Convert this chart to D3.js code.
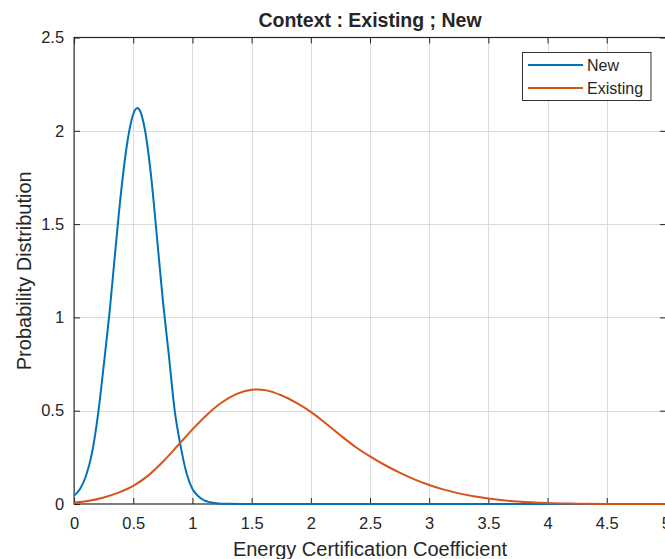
<!DOCTYPE html>
<html>
<head>
<meta charset="utf-8">
<script src="https://cdn.jsdelivr.net/npm/d3@7"></script>
<style>
  html, body { margin: 0; padding: 0; background: #ffffff; }
  svg { display: block; }
  text { font-family: "Liberation Sans", Arial, Helvetica, sans-serif; fill: #262626; }
</style>
</head>
<body>
<svg id="chart" width="665" height="559"></svg>
<script>
// Probability density of the energy certification coefficient, per building context
const newX = [0, 0.05, 0.1, 0.15, 0.2, 0.25, 0.3, 0.35, 0.4, 0.45, 0.5, 0.535, 0.55, 0.6, 0.65, 0.7,
  0.75, 0.8, 0.85, 0.9, 0.95, 1.0, 1.05, 1.1, 1.15, 1.2, 1.3, 1.4, 1.5, 2, 3, 4, 5];
const newY = [0.045, 0.08, 0.15, 0.27, 0.47, 0.74, 1.03, 1.37, 1.69, 1.94, 2.09, 2.122, 2.115, 2.0, 1.76, 1.43,
  1.09, 0.80, 0.50, 0.31, 0.165, 0.08, 0.042, 0.019, 0.009, 0.004, 0.0007, 0.0001, 0, 0, 0, 0, 0];

const existingX = [0, 0.125, 0.25, 0.375, 0.5, 0.625, 0.75, 0.875, 1.0, 1.125, 1.25, 1.375, 1.5, 1.55,
  1.625, 1.75, 1.875, 2.0, 2.125, 2.25, 2.375, 2.5, 2.625, 2.75, 2.875, 3.0, 3.125, 3.25, 3.375, 3.5,
  3.75, 4.0, 4.25, 4.5, 4.75, 5.0];
const existingY = [0.007, 0.017, 0.035, 0.061, 0.097, 0.152, 0.226, 0.312, 0.400, 0.480, 0.545, 0.590, 0.612, 0.614,
  0.609, 0.583, 0.543, 0.494, 0.433, 0.368, 0.307, 0.255, 0.209, 0.168, 0.132, 0.102, 0.077, 0.057, 0.041, 0.029,
  0.013, 0.005, 0.002, 0.0006, 0.0001, 0];

const seriesNames = ["New", "Existing"];
const seriesColors = ["#0072BD", "#D95319"];

const xTicks = [0, 0.5, 1, 1.5, 2, 2.5, 3, 3.5, 4, 4.5, 5];
const yTicks = [0, 0.5, 1, 1.5, 2, 2.5];

const titleText = "Context : Existing ; New";
const xLabelText = "Energy Certification Coefficient";
const yLabelText = "Probability Distribution";

const svg = d3.select("#chart");
const plotLeft = 74.1, plotRight = 665.9, plotTop = 37.5, plotBottom = 504;
const axisColor = "#262626";
const tickLen = 6;

const x = d3.scaleLinear().domain([0, 5]).range([plotLeft, plotRight]);
const y = d3.scaleLinear().domain([0, 2.5]).range([plotBottom, plotTop]);
const fmt = d => d3.format("~g")(d);

// grid
const grid = svg.append("g").attr("stroke", "#dcdcdc").attr("stroke-width", 1);
grid.selectAll("line.gx").data(xTicks.slice(1, -1)).join("line")
  .attr("x1", d => Math.round(x(d)) + 0.5).attr("x2", d => Math.round(x(d)) + 0.5)
  .attr("y1", plotTop).attr("y2", plotBottom);
grid.selectAll("line.gy").data(yTicks.slice(1, -1)).join("line")
  .attr("y1", d => Math.round(y(d)) + 0.5).attr("y2", d => Math.round(y(d)) + 0.5)
  .attr("x1", plotLeft).attr("x2", plotRight);

// axes with inward ticks on all four sides
function styleAxis(g) {
  g.select(".domain").remove();
  g.selectAll(".tick line").attr("stroke", axisColor);
  g.selectAll(".tick text").attr("fill", axisColor)
    .style("font-size", "16.5px")
    .style("font-family", '"Liberation Sans", Arial, Helvetica, sans-serif');
}

svg.append("g").attr("transform", `translate(0,${plotBottom})`)
  .call(d3.axisBottom(x).tickValues(xTicks).tickFormat(fmt).tickSizeInner(-tickLen).tickSizeOuter(0).tickPadding(13))
  .call(styleAxis);
svg.append("g").attr("transform", `translate(0,${plotTop})`)
  .call(d3.axisTop(x).tickValues(xTicks).tickFormat("").tickSizeInner(-tickLen).tickSizeOuter(0))
  .call(styleAxis);
svg.append("g").attr("transform", `translate(${plotLeft},0)`)
  .call(d3.axisLeft(y).tickValues(yTicks).tickFormat(fmt).tickSizeInner(-tickLen).tickSizeOuter(0).tickPadding(10))
  .call(styleAxis);
svg.append("g").attr("transform", `translate(${plotRight},0)`)
  .call(d3.axisRight(y).tickValues(yTicks).tickFormat("").tickSizeInner(-tickLen).tickSizeOuter(0))
  .call(styleAxis);

// axes box
svg.append("rect")
  .attr("x", plotLeft).attr("y", plotTop)
  .attr("width", plotRight - plotLeft).attr("height", plotBottom - plotTop)
  .attr("fill", "none").attr("stroke", axisColor).attr("stroke-width", 1.2);

// density curves
const line = d3.line()
  .x(d => x(d[0]))
  .y(d => y(d[1]))
  .curve(d3.curveMonotoneX);

const series = [
  { name: seriesNames[0], color: seriesColors[0], pts: d3.zip(newX, newY) },
  { name: seriesNames[1], color: seriesColors[1], pts: d3.zip(existingX, existingY) }
];

svg.append("g").selectAll("path").data(series).join("path")
  .attr("d", d => line(d.pts))
  .attr("fill", "none")
  .attr("stroke", d => d.color)
  .attr("stroke-width", 2)
  .attr("stroke-linejoin", "round");

// title and axis labels
svg.append("text")
  .attr("x", (plotLeft + plotRight) / 2).attr("y", 27)
  .attr("text-anchor", "middle")
  .style("font-size", "19.5px").style("font-weight", "bold")
  .attr("fill", "#000")
  .text(titleText);

svg.append("text")
  .attr("x", (plotLeft + plotRight) / 2).attr("y", 556)
  .attr("text-anchor", "middle")
  .style("font-size", "20px")
  .text(xLabelText);

svg.append("text")
  .attr("transform", `translate(31,${(plotTop + plotBottom) / 2}) rotate(-90)`)
  .attr("text-anchor", "middle")
  .style("font-size", "20px")
  .text(yLabelText);

// legend
const legend = svg.append("g");
legend.append("rect")
  .attr("x", 522.5).attr("y", 52.5).attr("width", 128.5).attr("height", 48)
  .attr("fill", "#fff").attr("stroke", "#333").attr("stroke-width", 1);
const rows = legend.selectAll("g.row").data(series).join("g")
  .attr("transform", (d, i) => `translate(0,${65 + i * 23})`);
rows.append("line")
  .attr("x1", 528).attr("x2", 583).attr("y1", 0).attr("y2", 0)
  .attr("stroke", d => d.color).attr("stroke-width", 2);
rows.append("text")
  .attr("x", 587).attr("y", 0).attr("dy", "0.35em")
  .style("font-size", "16px")
  .attr("fill", "#000")
  .text(d => d.name);
</script>
</body>
</html>
